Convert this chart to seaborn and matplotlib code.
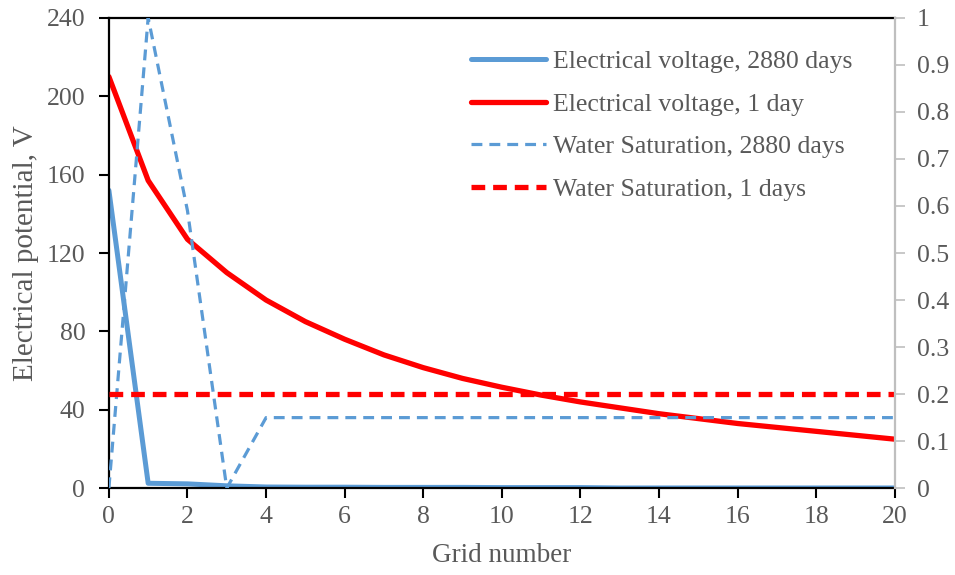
import matplotlib
matplotlib.use('Agg')
import matplotlib.pyplot as plt
import numpy as np
import pandas as pd
import seaborn as sns

grid = list(range(21))

volt_2880 = [152, 2.5, 2.2, 1.2, 0.6, 0.5, 0.5, 0.4, 0.4, 0.4, 0.3, 0.3, 0.3,
             0.1, 0.1, 0.1, 0.1, 0.1, 0.1, 0.1, 0.1]
volt_1 = [210, 157, 127, 110, 96, 85, 76, 68, 61.5, 56, 51.5, 47.5, 44,
          41, 38, 35.5, 33, 31, 29, 27, 25]
sat_2880 = [0, 1.0, 0.59, 0, 0.15, 0.15, 0.15, 0.15, 0.15, 0.15, 0.15, 0.15,
            0.15, 0.15, 0.15, 0.15, 0.15, 0.15, 0.15, 0.15, 0.15]
sat_1 = [0.2] * 21

left_ticks = [0, 40, 80, 120, 160, 200, 240]
right_ticks = [0, 0.1, 0.2, 0.3, 0.4, 0.5, 0.6, 0.7, 0.8, 0.9, 1]
right_labels = ['0', '0.1', '0.2', '0.3', '0.4', '0.5', '0.6', '0.7', '0.8', '0.9', '1']
x_ticks = list(range(0, 21, 2))

BLUE = '#5B9BD5'
RED = '#FF0000'
TEXT = '#595959'

sns.set_style('white')
plt.rcParams['font.family'] = ['Liberation Serif', 'DejaVu Serif']

df = pd.DataFrame({'grid': grid, 'v2880': volt_2880, 'v1': volt_1,
                   's2880': sat_2880, 's1': sat_1})

fig, ax = plt.subplots(figsize=(9.55, 5.75), dpi=100)
fig.subplots_adjust(left=0.114, right=0.937, top=0.969, bottom=0.151)
ax2 = ax.twinx()

sns.lineplot(data=df, x='grid', y='v2880', ax=ax, color=BLUE, linewidth=3.6,
             label='Electrical voltage, 2880 days', legend=False)
sns.lineplot(data=df, x='grid', y='v1', ax=ax, color=RED, linewidth=3.8,
             label='Electrical voltage, 1 day', legend=False)
sns.lineplot(data=df, x='grid', y='s2880', ax=ax2, color=BLUE, linewidth=2.3,
             linestyle=(0, (3.4, 2.2)), label='Water Saturation, 2880 days', legend=False)
sns.lineplot(data=df, x='grid', y='s1', ax=ax2, color=RED, linewidth=3.8,
             linestyle=(0, (2.6, 1.5)), label='Water Saturation, 1 days', legend=False)

ax.set_xlim(0, 20)
ax.set_ylim(0, 240)
ax2.set_ylim(0, 1)
ax.set_xticks(x_ticks)
ax.set_yticks(left_ticks)
ax2.set_yticks(right_ticks)
ax2.set_yticklabels(right_labels)

ax.set_xlabel('Grid number', fontsize=19.5, color=TEXT)
ax.set_ylabel('Electrical potential, V', fontsize=21, color=TEXT)
ax.xaxis.set_label_coords(0.5, -0.116)
ax.yaxis.set_label_coords(-0.089, 0.5)
ax2.set_ylabel('')

ax.tick_params(axis='both', which='both', direction='out', length=7, width=1.5,
               color='black', labelcolor=TEXT, labelsize=18.5, left=True, bottom=True)
ax.tick_params(axis='y', pad=10)
ax.tick_params(axis='x', pad=6)
ax2.tick_params(axis='y', direction='out', length=7, width=1.2, color='#BFBFBF',
                labelcolor=TEXT, labelsize=18.5, right=True, pad=9)

for side in ['left', 'bottom', 'top']:
    ax.spines[side].set_color('black')
    ax.spines[side].set_linewidth(1.6)
for side in ['left', 'bottom', 'top']:
    ax2.spines[side].set_visible(False)
ax2.spines['right'].set_color('#BFBFBF')
ax2.spines['right'].set_linewidth(1.6)
ax.spines['right'].set_visible(False)

handles = ax.get_lines() + ax2.get_lines()
labels = [h.get_label() for h in handles]
leg = ax2.legend(handles, labels, loc='upper left', bbox_to_anchor=(0.431, 0.981),
                 frameon=False, fontsize=18.5, handlelength=2.92, labelspacing=0.77,
                 handletextpad=0.3, labelcolor=TEXT)

fig.savefig('out.png', dpi=100)
